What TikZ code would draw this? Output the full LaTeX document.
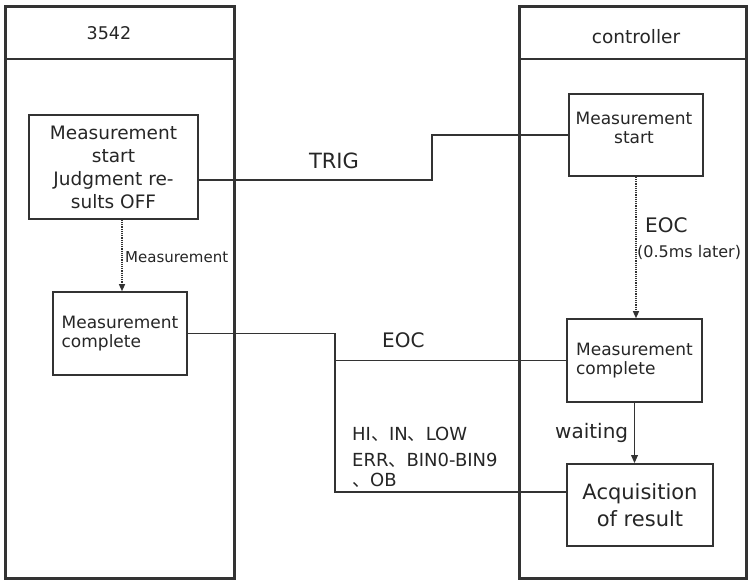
\documentclass[tikz,border=0pt]{standalone}
\usepackage{fontspec}
\setmainfont{DejaVu Sans}
\newfontfamily\cjkfont{Noto Sans CJK SC}
\usetikzlibrary{arrows.meta}
\definecolor{ink}{HTML}{333333}
\definecolor{txt}{HTML}{262626}
\newcommand{\dun}{{\cjkfont 、}}
\begin{document}
\begin{tikzpicture}[x=1pt,y=-1pt,
  panel/.style={draw=ink,line width=3pt},
  sepline/.style={draw=ink,line width=1.5pt},
  box/.style={draw=ink,line width=1.6pt,inner sep=0pt,text=txt},
  wire/.style={draw=ink,line width=1.6pt},
  dots/.style={draw=ink,line width=1.2pt,densely dotted,-{Triangle[length=7pt,width=6pt]}},
  arr/.style={draw=ink,line width=1.6pt,-{Triangle[length=8pt,width=6.5pt]}},
  lbl/.style={text=txt,inner sep=0pt},
  fsmall/.style={font=\fontsize{17}{19.5}\selectfont},
]
\useasboundingbox (0,0) rectangle (748,581);
\fill[white] (0,0) rectangle (748,581);
% panels
\draw[panel] (5,6) rectangle (234,578);
\draw[sepline] (5,59) -- (234,59);
\draw[panel] (519,6) rectangle (746,578);
\draw[sepline] (519,59) -- (746,59);
\node[lbl,font=\fontsize{17.5}{20}\selectfont,anchor=base] (t1) at (109,39.5) {3542};
\node[lbl,font=\fontsize{18.5}{22}\selectfont,anchor=base] (t2) at (636,43.5) {controller};
% boxes
\node[box,minimum width=169pt,minimum height=104pt,align=center,font=\fontsize{18.5}{23}\selectfont] (A) at (113.5,167) {Measurement\\start\\Judgment re-\\sults OFF};
\node[box,fsmall,minimum width=134pt,minimum height=83pt,align=left] (LC) at (120,333.5) {Measurement\\complete};
\node[box,minimum width=134pt,minimum height=82pt] (B) at (636,135) {};
\node[lbl,fsmall,align=center] (Bt) at (634,128) {Measurement\\start};
\node[box,fsmall,minimum width=135pt,minimum height=83pt,align=left] (C) at (634.5,360.5) {Measurement\\complete};
\node[box,minimum width=146pt,minimum height=82pt,align=center,font=\fontsize{21}{27}\selectfont] (D) at (640,505) {Acquisition\\of result};
% connectors
\coordinate (trigc) at (432,180);
\draw[wire] (A.east |- trigc) -- (trigc) |- (B.west);
\coordinate (busBot) at (335,492);
\draw[wire] (LC.east) -- (LC.east -| busBot) -- (busBot) -- (D.west |- busBot);
\draw[wire] (C.west -| busBot) -- (C.west);
\coordinate (m1) at (122,0);
\draw[dots] (A.south -| m1) -- (LC.north -| m1);
\draw[dots] (B.south) -- (B.south |- C.north);
\draw[arr] (C.south) -- (C.south |- D.north);
% labels
\node[lbl,font=\fontsize{21}{25}\selectfont,anchor=base] (trig) at (334,168) {TRIG};
\node[lbl,font=\fontsize{15}{18}\selectfont,anchor=base west] (meas) at (125,262) {Measurement};
\node[lbl,font=\fontsize{20}{24}\selectfont,anchor=base west] (eoc1) at (382,347) {EOC};
\node[lbl,font=\fontsize{20}{24}\selectfont,anchor=base west] (eoc2) at (645,232) {EOC};
\node[lbl,font=\fontsize{16}{19}\selectfont,anchor=base west] (later) at (637,257) {(0.5ms later)};
\node[lbl,font=\fontsize{20}{24}\selectfont,anchor=base west] (wait) at (555,438) {waiting};
\node[lbl,font=\fontsize{18}{20}\selectfont,anchor=base west] (r1) at (352,440) {HI\dun IN\dun LOW};
\node[lbl,font=\fontsize{18}{20}\selectfont,anchor=base west] (r2) at (352,466) {ERR\dun BIN0-BIN9};
\node[lbl,font=\fontsize{18}{20}\selectfont,anchor=base west] (r3) at (352,486) {\dun OB};
\end{tikzpicture}
\end{document}
